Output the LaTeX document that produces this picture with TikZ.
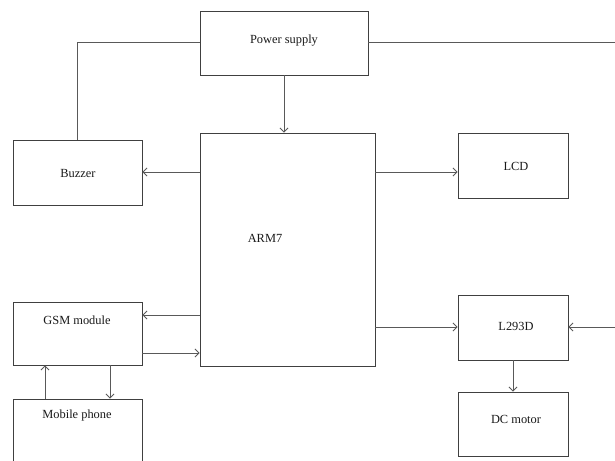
\documentclass[tikz,border=0pt]{standalone}
\usepackage{fontspec}
\setmainfont{Liberation Serif}
\usetikzlibrary{arrows.meta}
\begin{document}
\begin{tikzpicture}[x=1pt,y=-1pt,
  box/.style={draw=black!75,line width=0.9pt},
  lbl/.style={font=\fontsize{12.4}{14}\selectfont,inner sep=0pt,text=black!90},
  conn/.style={draw=black!65,line width=0.9pt},
  arr/.style={conn,-{Straight Barb[length=4pt,width=8pt,line width=0.8pt]}}]
\useasboundingbox (0,0) rectangle (615,460);
\clip (0,0) rectangle (615,460);
% boxes
\node[box,minimum width=168pt,minimum height=64pt,inner sep=0pt] (ps) at (284,43) {};
\node[lbl] at (284,41) {Power supply};
\node[box,minimum width=175pt,minimum height=233pt,inner sep=0pt] (arm) at (287.5,249.5) {};
\node[lbl] at (265,238) {ARM7};
\node[box,minimum width=129pt,minimum height=65pt,inner sep=0pt] (bz) at (77.5,172.5) {};
\node[lbl] at (78,173) {Buzzer};
\node[box,minimum width=110pt,minimum height=65pt,inner sep=0pt] (lcd) at (513,165.5) {};
\node[lbl] at (516,166) {LCD};
\node[box,minimum width=129pt,minimum height=63pt,inner sep=0pt] (gsm) at (77.5,333.5) {};
\node[lbl] at (77,320) {GSM module};
\node[box,minimum width=129pt,minimum height=80pt,inner sep=0pt] (mp) at (77.5,439) {};
\node[lbl] at (77,416) {Mobile phone};
\node[box,minimum width=110pt,minimum height=65pt,inner sep=0pt] (l293) at (513,327.5) {};
\node[lbl] at (516,326) {L293D};
\node[box,minimum width=110pt,minimum height=64pt,inner sep=0pt] (dc) at (513,424) {};
\node[lbl] at (516,419) {DC motor};
\coordinate (ra) at (615,42);
\coordinate (rb) at (615,327);
% connectors
\draw[conn] (ps.west |- 0,42) -| (bz.north);
\draw[conn] (ps.east |- 0,42) -- (ra);
\draw[arr] (ps.south) -- (arm.north -| ps.south);
\draw[arr] (arm.west |- 0,172) -- (bz.east |- 0,172);
\draw[arr] (arm.east |- 0,172) -- (lcd.west |- 0,172);
\draw[arr] (arm.west |- 0,315) -- (gsm.east |- 0,315);
\draw[arr] (gsm.east |- 0,353) -- (arm.west |- 0,353);
\draw[arr] (arm.east |- 0,327) -- (l293.west |- 0,327);
\draw[arr] (rb) -- (l293.east |- rb);
\draw[arr] (l293.south) -- (dc.north);
\draw[arr] (mp.north -| 45,0) -- (gsm.south -| 45,0);
\draw[arr] (gsm.south -| 110,0) -- (mp.north -| 110,0);
\end{tikzpicture}
\end{document}
